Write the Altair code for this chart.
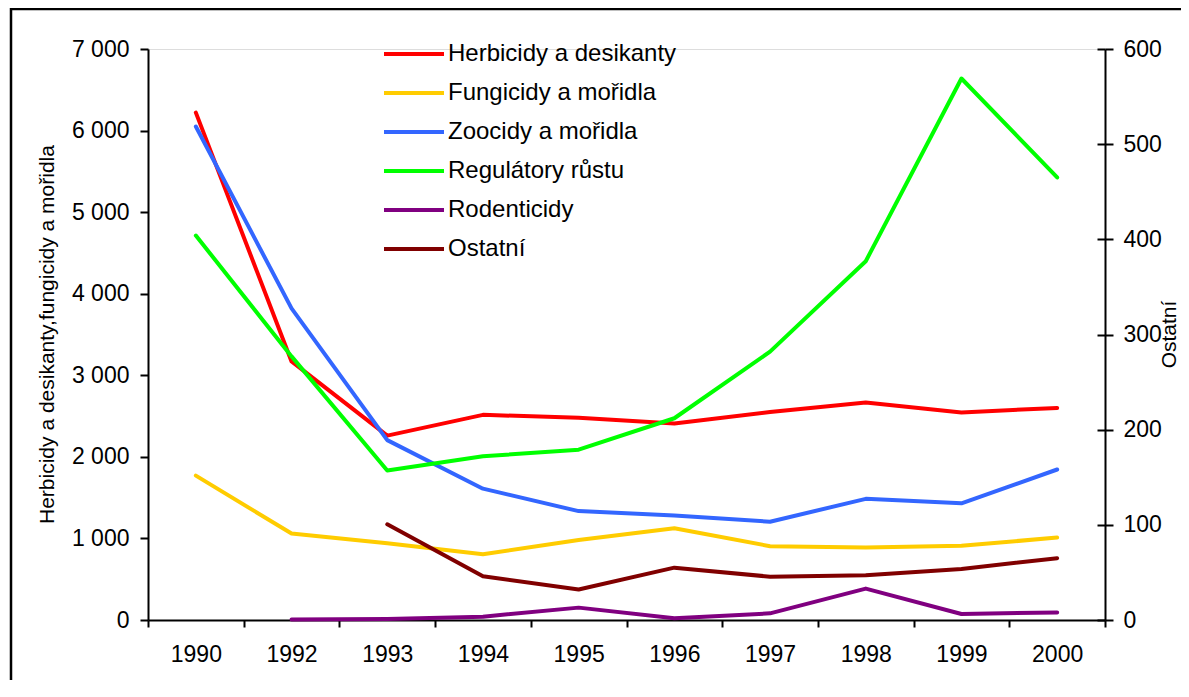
import altair as alt
import pandas as pd

years = ["1990", "1992", "1993", "1994", "1995", "1996", "1997", "1998", "1999", "2000"]
series_names = ["Herbicidy a desikanty", "Fungicidy a mořidla", "Zoocidy a mořidla",
                "Regulátory růstu", "Rodenticidy", "Ostatní"]
colors = ["#FF0000", "#FFCC00", "#3366FF", "#00FF00", "#800080", "#800000"]

# left axis series
herbicidy = [6220, 3170, 2260, 2515, 2480, 2410, 2550, 2665, 2545, 2600]
fungicidy = [1770, 1060, 940, 805, 980, 1125, 905, 890, 910, 1010]
zoocidy = [6050, 3820, 2205, 1610, 1335, 1280, 1205, 1485, 1430, 1845]
# right axis series
regulatory = [404, 277, 157, 172, 179, 212, 282, 377, 569, 465]
rodenticidy = [None, 0.5, 1, 3.5, 13, 1.8, 7, 33, 6.3, 8]
ostatni = [None, None, 100.5, 46, 32, 55, 45.5, 47, 53.6, 65]

left_values = [herbicidy, fungicidy, zoocidy]
right_values = [regulatory, rodenticidy, ostatni]
right_ticks = [0, 100, 200, 300, 400, 500, 600]
left_ticks = [0, 1000, 2000, 3000, 4000, 5000, 6000, 7000]

def long_frame(names, value_lists):
    rows = []
    for name, vals in zip(names, value_lists):
        for y, v in zip(years, vals):
            if v is not None:
                rows.append({"rok": y, "serie": name, "hodnota": v})
    return pd.DataFrame(rows)

left_df = long_frame(series_names[:3], left_values)
right_df = long_frame(series_names[3:], right_values)

FONT = "Liberation Sans"
TICK_FS = 23

color_enc = alt.Color(
    "serie:N",
    scale=alt.Scale(domain=series_names, range=colors),
    legend=alt.Legend(
        title=None, orient="none", legendX=254, legendY=-7, direction="vertical",
        symbolType="M-3,0L3,0", symbolSize=400, symbolStrokeWidth=4,
        labelFontSize=24, labelFont=FONT, labelColor="black", labelOffset=22, labelLimit=0,
        rowPadding=15, padding=0, symbolOpacity=1,
    ),
    sort=series_names,
)

x_enc = alt.X(
    "rok:O", sort=years, bandPosition=0.5,
    scale=alt.Scale(type="band", paddingInner=0, paddingOuter=0, domain=years),
    axis=alt.Axis(title=None, labelAngle=0, tickBand="extent", tickSize=7, labelPadding=16,
                  labelFontSize=TICK_FS, labelFont=FONT, labelColor="black",
                  domainColor="black", tickColor="black", domainWidth=2, tickWidth=2),
)

line_props = dict(strokeWidth=4, strokeCap="round", strokeJoin="round")

left = alt.Chart(left_df).mark_line(**line_props).encode(
    x=x_enc,
    y=alt.Y("hodnota:Q", scale=alt.Scale(domain=[0, 7000], nice=False),
            axis=alt.Axis(title="Herbicidy a desikanty,fungicidy a mořidla", orient="left",
                          values=left_ticks,
                          labelExpr="replace(format(datum.value, ','), ',', ' ')",
                          grid=False, tickSize=8, labelPadding=11,
                          labelFontSize=TICK_FS, labelFont=FONT, labelColor="black",
                          titleFontSize=21, titleFont=FONT, titleFontWeight="normal", titleColor="black",
                          titleAngle=270, titleX=-101, titleY=285, titleAlign="center", titleBaseline="middle",
                          domainColor="black", tickColor="black", domainWidth=2, tickWidth=2)),
    color=color_enc,
    order=alt.Order("rok:O"),
)

right = alt.Chart(right_df).mark_line(**line_props).encode(
    x=x_enc,
    y=alt.Y("hodnota:Q", scale=alt.Scale(domain=[0, 600], nice=False),
            axis=alt.Axis(title="Ostatní", orient="right",
                          values=right_ticks,
                          grid=False, tickSize=8, labelPadding=10,
                          labelFontSize=TICK_FS, labelFont=FONT, labelColor="black",
                          titleFontSize=21, titleFont=FONT, titleFontWeight="normal", titleColor="black",
                          titleAngle=270, titleX=64, titleY=285, titleAlign="center", titleBaseline="middle",
                          domainColor="black", tickColor="black", domainWidth=2, tickWidth=2)),
    color=color_enc,
    order=alt.Order("rok:O"),
)

# inner half of the crossing ticks on the right axis
right_inner = alt.Chart(right_df).mark_line(opacity=0).encode(
    x=x_enc,
    y=alt.Y("hodnota:Q", scale=alt.Scale(domain=[0, 600], nice=False),
            axis=alt.Axis(title=None, orient="right", values=right_ticks, offset=-8,
                          grid=False, domain=False, labels=False, tickSize=8,
                          tickColor="black", tickWidth=2)),
    detail="serie:N",
)

border = alt.Chart(alt.Data(values=[{}])).mark_rect(
    fill="white", fillOpacity=0, stroke="black", strokeWidth=2.5
).encode(
    x=alt.value(-137), x2=alt.value(1200), y=alt.value(-40), y2=alt.value(720)
)

chart = alt.layer(left, right, right_inner, border).resolve_scale(y="independent").properties(
    width=957, height=571,
    autosize=alt.AutoSizeParams(type="none"),
    padding={"left": 140, "top": 41, "right": 76, "bottom": 60},
).configure_view(stroke=None).configure(background="white")

chart.save("out.html", embed_options={"renderer": "svg", "actions": False})
